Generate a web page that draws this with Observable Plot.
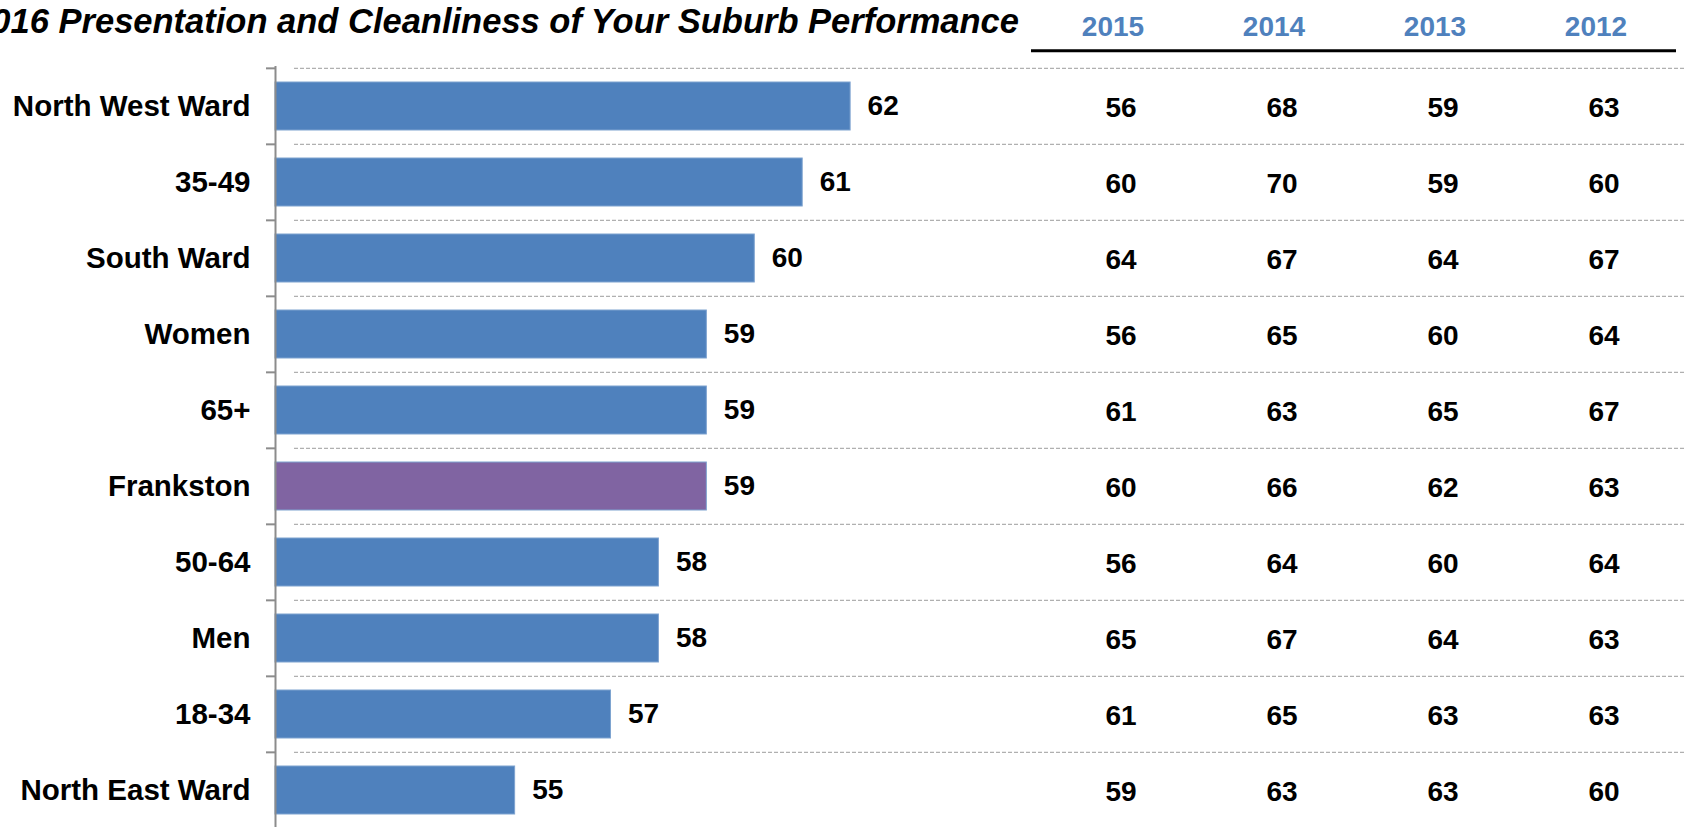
<!DOCTYPE html>
<html>
<head>
<meta charset="utf-8">
<script src="https://cdn.jsdelivr.net/npm/d3@7"></script>
<script src="https://cdn.jsdelivr.net/npm/@observablehq/plot@0.6"></script>
<style>
  html, body { margin: 0; padding: 0; background: #fff; overflow: hidden; }
  #wrap { position: relative; width: 1685px; height: 827px; overflow: hidden; font-family: "Liberation Sans", Arial, sans-serif; }
  #title { position: absolute; right: 666px; top: 4px; white-space: nowrap; font-size: 34.5px; line-height: 34px; font-weight: bold; font-style: italic; color: #000; font-family: "Liberation Sans", Arial, sans-serif; }
  #bars { position: absolute; left: 0; top: 0; }
  #table { position: absolute; left: 1031px; top: 0; }
</style>
</head>
<body>
<div id="wrap">
  <div id="bars"></div>
  <div id="table"></div>
  <div id="title">2016 Presentation and Cleanliness of Your Suburb Performance</div>
</div>
<script>
const categories = ["North West Ward", "35-49", "South Ward", "Women", "65+", "Frankston", "50-64", "Men", "18-34", "North East Ward"];
const values2016 = [62, 61, 60, 59, 59, 59, 58, 58, 57, 55];
const years = ["2015", "2014", "2013", "2012"];
const values2015 = [56, 60, 64, 56, 61, 60, 56, 65, 61, 59];
const values2014 = [68, 70, 67, 65, 63, 66, 64, 67, 65, 63];
const values2013 = [59, 59, 64, 60, 65, 62, 60, 64, 63, 63];
const values2012 = [63, 60, 67, 64, 67, 63, 64, 63, 63, 60];
const highlight = "Frankston";

const xDomain = [50, 79.42];
const blue = "#4F81BD", purple = "#8064A2";
const font = "'Liberation Sans', Arial, sans-serif";

const bars = categories.map((c, i) => ({category: c, value: values2016[i]}));
const tableCols = [values2015, values2014, values2013, values2012];
const table = [];
categories.forEach((c, i) => years.forEach((y, j) => table.push({category: c, year: y, value: tableCols[j][i]})));

const H = 829, MT = 66;
const step = (H - MT) / categories.length;
const yScale = {type: "band", domain: categories, paddingInner: 0.375, paddingOuter: 0.1875};

const plotA = Plot.plot({
  width: 1685, height: H,
  marginLeft: 275, marginRight: 0, marginTop: MT, marginBottom: 0,
  style: {fontFamily: font, fontSize: "29.5px", fontWeight: "bold", color: "#000", background: "transparent", overflow: "visible"},
  x: {domain: xDomain, axis: null},
  y: {...yScale, label: null},
  marks: [
    Plot.ruleY(categories, {y: d => d, dy: -step / 2, stroke: "#b0b0b0", strokeWidth: 1.3, strokeDasharray: "4,2", insetLeft: 19}),
    Plot.ruleY(categories, {y: d => d, dy: -step / 2, stroke: "#8c8c8c", strokeWidth: 2, insetLeft: -9, insetRight: 1410}),
    Plot.barX(bars, {x1: xDomain[0], x2: "value", y: "category", fill: d => d.category === highlight ? purple : blue, stroke: "#7ea3d0", strokeWidth: 1}),
    Plot.ruleX([xDomain[0]], {stroke: "#8c8c8c", strokeWidth: 2}),
    Plot.text(bars, {x: "value", y: "category", text: d => String(d.value), textAnchor: "start", dx: 17, fontSize: 28, fontWeight: "bold", fill: "#000"}),
    Plot.axisY({tickSize: 0, tickPadding: 25, fontSize: 29.5, fontWeight: "bold", fill: "#000", label: null})
  ]
});
document.getElementById("bars").appendChild(plotA);

const plotB = Plot.plot({
  width: 645, height: H,
  marginLeft: 0, marginRight: 0, marginTop: MT, marginBottom: 0,
  style: {fontFamily: font, fontSize: "28px", fontWeight: "bold", color: "#000", background: "transparent", overflow: "visible"},
  x: {type: "band", domain: years, padding: 0, axis: null},
  y: {...yScale, axis: null},
  marks: [
    Plot.text(years, {x: d => d, frameAnchor: "top", lineAnchor: "middle", dy: -39, text: d => d, fill: blue, fontSize: 28, fontWeight: "bold"}),
    Plot.ruleY([categories[0]], {y: d => d, dy: -step / 2 - 17.5, stroke: "#000", strokeWidth: 3}),
    Plot.text(table, {x: "year", y: "category", text: d => String(d.value), dx: 8, dy: 2, fontSize: 28, fontWeight: "bold", fill: "#000"})
  ]
});
document.getElementById("table").appendChild(plotB);
</script>
</body>
</html>
